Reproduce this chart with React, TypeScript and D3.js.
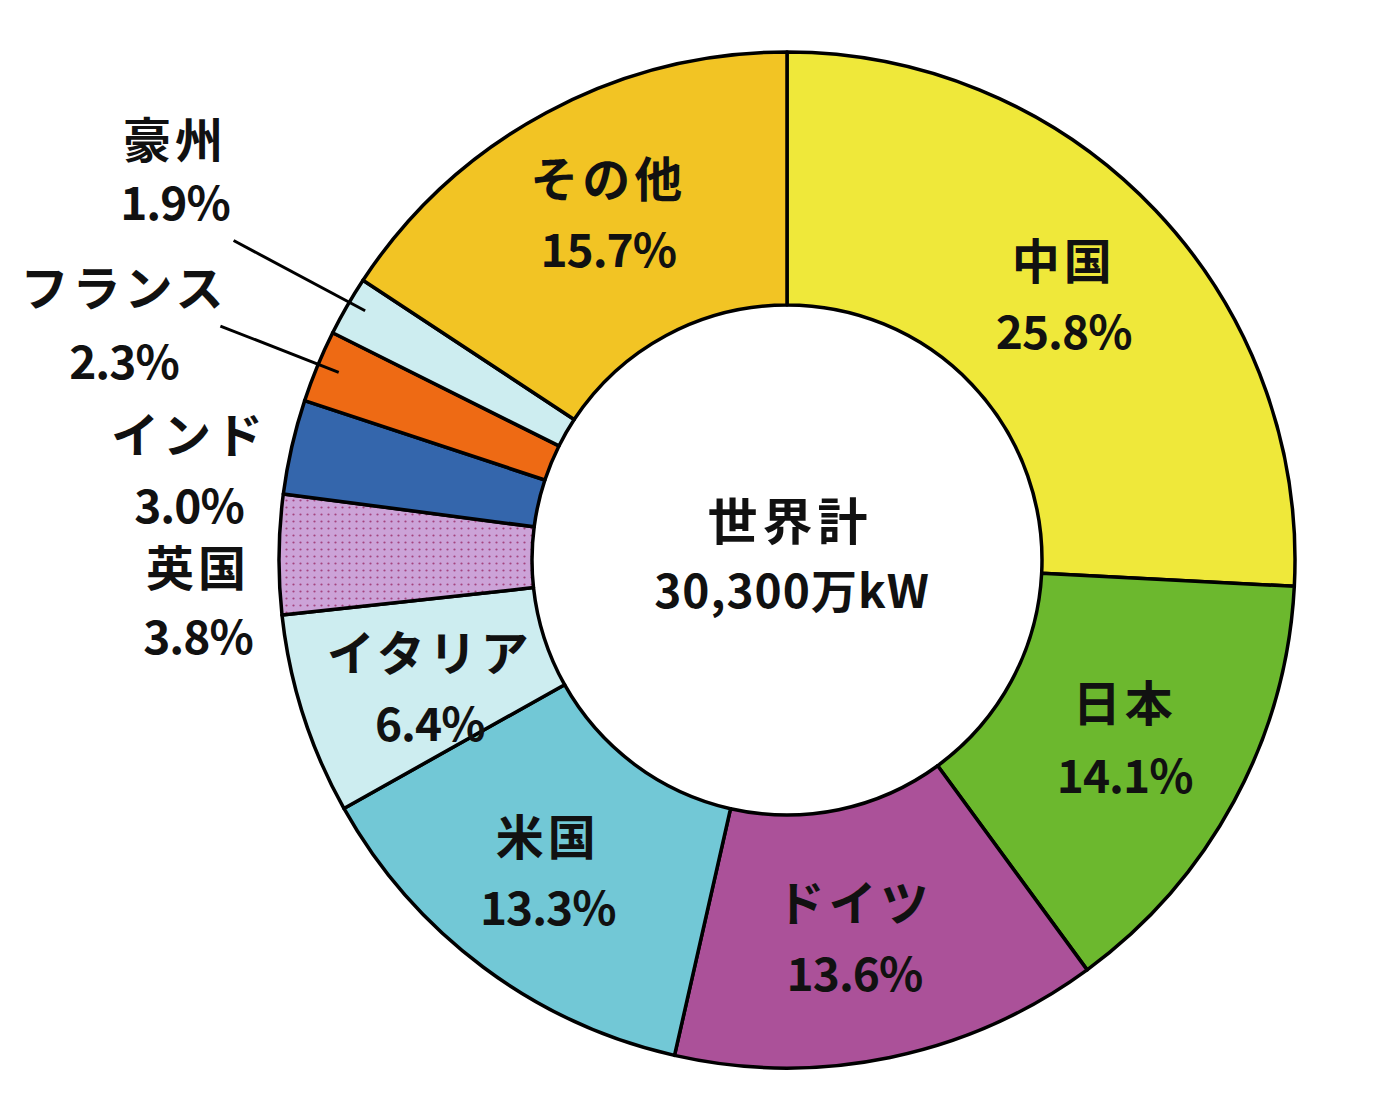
import React from "react";
import * as d3 from "d3";

const categories = ["中国", "日本", "ドイツ", "米国", "イタリア", "英国", "インド", "フランス", "豪州", "その他"];
const shares = [25.8, 14.1, 13.6, 13.3, 6.4, 3.8, 3.0, 2.3, 1.9, 15.7];
const colors = ["#EFE83A", "#6CB82E", "#AB5199", "#72C8D6", "#CDEDF0", "url(#dots)", "#3466AC", "#EE6A14", "#CDEDF0", "#F2C424"];
const pctLabels = ["25.8%", "14.1%", "13.6%", "13.3%", "6.4%", "3.8%", "3.0%", "2.3%", "1.9%", "15.7%"];
const centerTitle = "世界計";
const centerTotal = "30,300万kW";

// label layout: inside labels use centroid offsets; outside labels use offsets from the pie center
const labelLayout: { mode: "in" | "out"; dx: number; dy: number; gap: number }[] = [
  { mode: "in", dx: 0, dy: -3, gap: 70 },
  { mode: "in", dx: 2, dy: -4, gap: 72 },
  { mode: "in", dx: -10, dy: 2, gap: 70 },
  { mode: "in", dx: -11, dy: 4, gap: 70 },
  { mode: "in", dx: 6, dy: 10, gap: 70 },
  { mode: "out", dx: -589, dy: 40, gap: 68 },
  { mode: "out", dx: -598, dy: -92, gap: 70 },
  { mode: "out", dx: -663, dy: -238, gap: 73 },
  { mode: "out", dx: -612, dy: -391, gap: 62 },
  { mode: "in", dx: 2, dy: -12, gap: 70 },
];
const leaders: { index: number; r0: number; r1: number; da: number }[] = [
  { index: 8, r0: 490, r1: 639, da: 0.01 },
  { index: 7, r0: 486, r1: 613, da: 0.005 },
];

const W = 1380;
const H = 1110;
const cx = 787;
const cy = 560;
const R = 508;
const r = 255;
const FONT = "'Noto Sans CJK JP', 'Noto Sans', sans-serif";

export default function App() {
  const pie = d3.pie<number>().sort(null).value((d) => d).startAngle(0).endAngle(2 * Math.PI);
  const arcs = pie(shares);
  const arc = d3.arc<d3.PieArcDatum<number>>().innerRadius(r).outerRadius(R);
  const pt = (a: number, rad: number): [number, number] => [Math.sin(a) * rad, -Math.cos(a) * rad];

  return (
    <svg width={W} height={H} style={{ position: "absolute", left: 0, top: 0, background: "#fff" }} fontFamily={FONT}>
      <defs>
        <pattern id="dots" width={7} height={7} patternUnits="userSpaceOnUse">
          <rect width={7} height={7} fill="#CCA3D8" />
          <circle cx={3.5} cy={3.5} r={1.1} fill="#A4437F" />
        </pattern>
      </defs>
      <g transform={`translate(${cx},${cy})`}>
        {arcs.map((a, i) => (
          <path key={i} d={arc(a) || ""} fill={colors[i]} stroke="#000" strokeWidth={3.5} strokeLinejoin="round" />
        ))}
        {leaders.map((l) => {
          const a = arcs[l.index];
          const mid = (a.startAngle + a.endAngle) / 2;
          const p0 = pt(mid + l.da, l.r0);
          const p1 = pt(mid, l.r1);
          return <line key={l.index} x1={p0[0]} y1={p0[1]} x2={p1[0]} y2={p1[1]} stroke="#000" strokeWidth={3} />;
        })}
        {arcs.map((a, i) => {
          const lay = labelLayout[i];
          let x: number, y: number;
          if (lay.mode === "in") {
            const c = arc.centroid(a);
            x = c[0] + lay.dx;
            y = c[1] + lay.dy;
          } else {
            x = lay.dx;
            y = lay.dy;
          }
          return (
            <g key={"t" + i} textAnchor="middle" fill="#111" fontWeight={700}>
              <text x={x} y={y - lay.gap / 2 + 20} fontSize={48} letterSpacing={4}>
                {categories[i]}
              </text>
              <text x={x} y={y + lay.gap / 2 + 20} fontSize={46} letterSpacing={-1}>
                {pctLabels[i]}
              </text>
            </g>
          );
        })}
        <g textAnchor="middle" fill="#111" fontWeight={700}>
          <text x={3} y={-20} fontSize={50} letterSpacing={5}>
            {centerTitle}
          </text>
          <text x={5} y={48} fontSize={46} letterSpacing={1}>
            {centerTotal}
          </text>
        </g>
      </g>
    </svg>
  );
}
